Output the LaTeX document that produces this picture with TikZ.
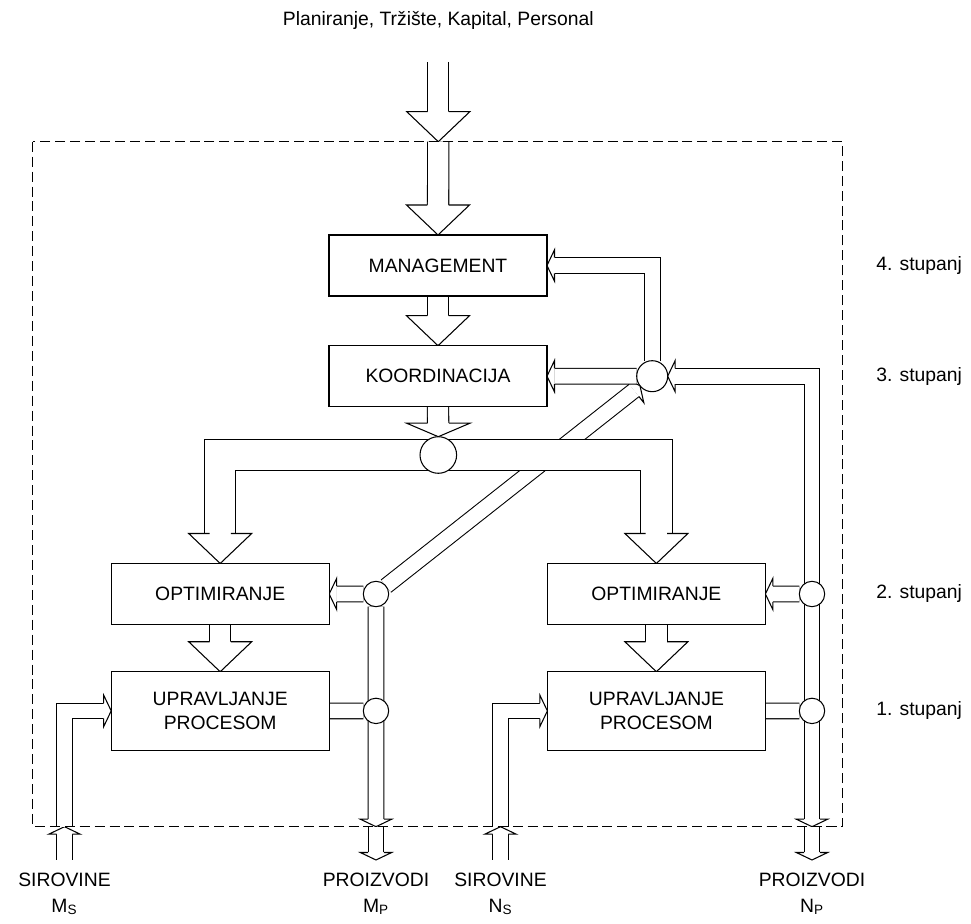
\documentclass[tikz,border=0pt]{standalone}
\usepackage{fontspec}
\setmainfont{Liberation Sans}
\usetikzlibrary{backgrounds}

\tikzset{
  frame/.style={line width=0.6pt, dash pattern=on 5.7pt off 2.8pt},
  box/.style={draw, fill=white, line width=0.6pt, minimum width=4.36cm, minimum height=1.22cm,
    inner sep=0pt, outer sep=0pt, align=center, font=\fontsize{11}{13.7}\selectfont},
  jn/.style={draw, fill=white, circle, line width=0.6pt, inner sep=0pt, outer sep=0pt},
  chan/.style={line width=0.6pt, double=white, double distance=8.33pt},
  shaft/.style={line width=0.6pt, double=white, double distance=11.5pt},
  bus/.style={line width=0.6pt, double=white, double distance=17.3pt},
  lbl/.style={font=\fontsize{11}{14.8}\selectfont, inner sep=0pt},
  % heads: tip at the origin, pointing along x (pics are not scaled)
  pics/smallhead/.style={code={
    \draw [line width=0.6pt, fill=white] (-0.15,0.157) -- (-0.15,0.314) -- (0,0) -- (-0.15,-0.314) -- (-0.15,-0.157);}},
  pics/bighead/.style={code={
    \draw [line width=0.6pt, fill=white] (-0.6,0.213) -- (-0.6,0.63) -- (0,0) -- (-0.6,-0.63) -- (-0.6,-0.213);}},
  pics/flathead/.style={code={
    \draw [line width=0.6pt, fill=white] (-0.27,0.213) -- (-0.27,0.634) -- (0,0) -- (-0.27,-0.634) -- (-0.27,-0.213);}}
}

\begin{document}
\begin{tikzpicture}[scale=0.2]
\useasboundingbox (0,0) rectangle (97.1,-92.4);
\draw [frame] (3.27,-14.17) rectangle (84.27,-82.67);

% blocks
\node [box] (mgmt) at (43.8,-26.55) {MANAGEMENT};
\node [box] (koord) at (43.8,-37.62) {KOORDINACIJA};
\node [box] (optL) at (22.02,-59.4) {OPTIMIRANJE};
\node [box] (optR) at (65.64,-59.4) {OPTIMIRANJE};
\node [box, minimum height=1.566cm] (uprL) at (22.02,-71.09) {UPRAVLJANJE\\PROCESOM};
\node [box, minimum height=1.566cm] (uprR) at (65.64,-71.09) {UPRAVLJANJE\\PROCESOM};

% junctions
\node [jn, minimum size=0.732cm] (jc) at (43.83,-45.5) {};
\node [jn, minimum size=0.62cm] (jk) at (65.22,-37.62) {};
\node [jn, minimum size=0.508cm] (jl1) at (37.6,-59.4) {};
\node [jn, minimum size=0.508cm] (jl2) at (37.6,-71.09) {};
\node [jn, minimum size=0.508cm] (jr1) at (81.2,-59.4) {};
\node [jn, minimum size=0.508cm] (jr2) at (81.2,-71.09) {};

% ends on the frame
\coordinate (topin) at (43.83,-6.2);
\coordinate (topb) at (43.83,-14.17);
\coordinate (msout) at (6.45,-86);
\coordinate (msb) at (6.45,-82.67);
\coordinate (nsout) at (50.05,-86);
\coordinate (nsb) at (50.05,-82.67);
\coordinate (mpb) at (37.6,-82.67);
\coordinate (mpout) at (37.6,-86);
\coordinate (npb) at (81.2,-82.67);
\coordinate (npout) at (81.2,-86);

\begin{scope}[on background layer]
% top-down
\draw [shaft, shorten >=17.07pt] (topin) -- (topb);
\pic [rotate=-90] at (topb) {bighead};
\draw [shaft, shorten >=17.07pt] (topb) -- (mgmt.north);
\pic [rotate=-90] at (mgmt.north) {bighead};
\draw [shaft, shorten >=17.07pt] (mgmt.south) -- (koord.north);
\pic [rotate=-90] at (koord.north) {bighead};
\draw [shaft, shorten >=7.68pt] (koord.south) -- (jc.north);
\pic [rotate=-90] at (jc.north) {flathead};
% diagonal
\draw [chan, shorten >=4.27pt] (jl1) -- (jk);
\pic [rotate=38.26] at (jk.218.26) {smallhead};
% bus
\draw [bus, shorten <=17.07pt, shorten >=17.07pt] (optL.north) |- (jc.center) -| (optR.north);
\pic [rotate=-90] at (optL.north) {bighead};
\pic [rotate=-90] at (optR.north) {bighead};
\draw [shaft, shorten >=17.07pt] (optL.south) -- (uprL.north);
\pic [rotate=-90] at (uprL.north) {bighead};
\draw [shaft, shorten >=17.07pt] (optR.south) -- (uprR.north);
\pic [rotate=-90] at (uprR.north) {bighead};
% feedback
\draw [chan, shorten >=4.27pt] (jk) |- (mgmt.east);
\pic [rotate=180] at (mgmt.east) {smallhead};
\draw [chan, shorten >=4.27pt] (jk) -- (jk -| koord.east);
\pic [rotate=180] at (jk -| koord.east) {smallhead};
\draw [chan, shorten <=4.27pt, shorten >=4.27pt] (npb) |- (jk);
\pic [rotate=180] at (jk.east) {smallhead};
\pic [rotate=-90] at (npb) {smallhead};
\draw [chan, shorten >=4.27pt] (npb) -- (npout);
\pic [rotate=-90] at (npout) {smallhead};
\draw [chan, shorten >=4.27pt] (jr1) -- (jr1 -| optR.east);
\pic [rotate=180] at (jr1 -| optR.east) {smallhead};
\draw [chan] (uprR.east) -- (jr2);
\draw [chan, shorten >=4.27pt] (jl1) -- (jl1 -| optL.east);
\pic [rotate=180] at (jl1 -| optL.east) {smallhead};
\draw [chan] (uprL.east) -- (jl2);
\draw [chan, shorten >=4.27pt] (jl1) -- (mpb);
\pic [rotate=-90] at (mpb) {smallhead};
\draw [chan, shorten >=4.27pt] (mpb) -- (mpout);
\pic [rotate=-90] at (mpout) {smallhead};
% inputs
\draw [chan, shorten >=4.27pt] (msout) -- (msb);
\pic [rotate=90] at (msb) {smallhead};
\draw [chan, shorten >=4.27pt] (msb) |- (uprL.west);
\pic at (uprL.west) {smallhead};
\draw [chan, shorten >=4.27pt] (nsout) -- (nsb);
\pic [rotate=90] at (nsb) {smallhead};
\draw [chan, shorten >=4.27pt] (nsb) |- (uprR.west);
\pic at (uprR.west) {smallhead};
\end{scope}

% labels
\node [lbl] (ttl) at (43.83,-2.0) {Planiranje, Tržište, Kapital, Personal};
\node [lbl, anchor=west] (st4) at (87.6,-26.55) {4. stupanj};
\node [lbl, anchor=west] (st3) at (87.6,-37.62) {3. stupanj};
\node [lbl, anchor=west] (st2) at (87.6,-59.4) {2. stupanj};
\node [lbl, anchor=west] (st1) at (87.6,-71.09) {1. stupanj};
\node [lbl, anchor=base] (ms) at (6.45,-88.6) {SIROVINE};
\node [lbl, anchor=base] (ms2) at (6.45,-91.2) {M\textsubscript{S}};
\node [lbl, anchor=base] (mp) at (37.6,-88.6) {PROIZVODI};
\node [lbl, anchor=base] (mp2) at (37.6,-91.2) {M\textsubscript{P}};
\node [lbl, anchor=base] (ns) at (50.05,-88.6) {SIROVINE};
\node [lbl, anchor=base] (ns2) at (50.05,-91.2) {N\textsubscript{S}};
\node [lbl, anchor=base] (np) at (81.2,-88.6) {PROIZVODI};
\node [lbl, anchor=base] (np2) at (81.2,-91.2) {N\textsubscript{P}};
\end{tikzpicture}
\end{document}
